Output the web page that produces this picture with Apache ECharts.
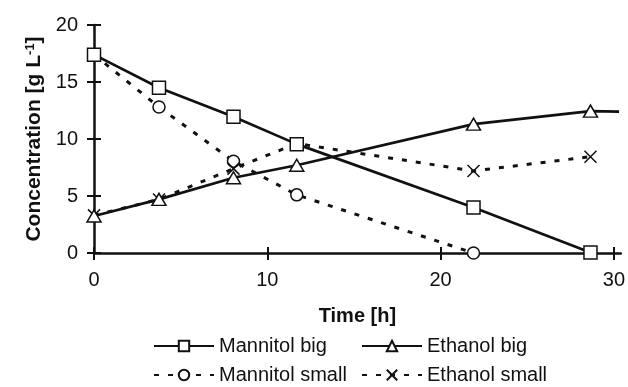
<!DOCTYPE html>
<html>
<head>
<meta charset="utf-8">
<script src="https://cdn.jsdelivr.net/npm/echarts@6/dist/echarts.min.js"></script>
<style>html,body{margin:0;padding:0;background:#fff}#c{width:628px;height:387px}</style>
</head>
<body>
<div id="c"></div>
<script>
// Time points [h]
var timeH = [0, 3.75, 8.05, 11.7, 21.9, 28.65];
var mannitolBig = [17.4, 14.5, 11.95, 9.55, 4.0, 0.05];
var ethanolBig = [3.25, 4.7, 6.6, 7.7, 11.3, 12.45];
var ethanolBigTail = [30.3, 12.4];
var mannitolSmall = [17.4, 12.8, 8.05, 5.1, 0];
var ethanolSmall = [3.3, 4.7, 7.4, 9.6, 7.2, 8.45];
var xTicks = [0, 10, 20, 30];
var yTicks = [0, 5, 10, 15, 20];
var seriesNames = ['Mannitol big', 'Ethanol big', 'Mannitol small', 'Ethanol small'];

function pairs(xs, ys) { return ys.map(function (v, i) { return [xs[i], v]; }); }

var FONT = 'Liberation Sans, Arial, sans-serif';
var INK = '#111';
var crossPath = 'path://M0,0L10,10M10,0L0,10';

var ethBigData = pairs(timeH, ethanolBig);
ethBigData.push({ value: ethanolBigTail, symbol: 'none' });

var chart = echarts.init(document.getElementById('c'), null, { renderer: 'canvas' });

var baseX = { type: 'value', min: 0, max: 30.4, interval: 10, splitLine: { show: false } };
var baseY = { type: 'value', min: 0, max: 20, interval: 5, splitLine: { show: false } };

var legendPos = [[148, 331], [356, 331], [148, 360], [356, 360]];
var legends = seriesNames.map(function (n, i) {
  return {
    left: legendPos[i][0], top: legendPos[i][1], itemWidth: 60, itemHeight: 13,
    textStyle: { fontSize: 20, color: INK, fontFamily: FONT },
    data: [n]
  };
});

chart.setOption({
  animation: false,
  backgroundColor: '#fff',
  textStyle: { fontFamily: FONT, color: INK },
  grid: { left: 94, right: 5, top: 25, bottom: 134 },
  xAxis: [
    Object.assign({}, baseX, {
      position: 'bottom',
      axisLine: { show: true, lineStyle: { color: INK, width: 2.5 } },
      axisTick: { show: true, inside: false, length: 7, customValues: xTicks, lineStyle: { color: INK, width: 2 } },
      axisLabel: { show: true, customValues: xTicks, margin: 17, fontSize: 20, color: INK, fontFamily: FONT },
      name: 'Time [h]', nameLocation: 'middle', nameGap: 53,
      nameTextStyle: { fontSize: 20, fontWeight: 'bold', color: INK, fontFamily: FONT }
    }),
    Object.assign({}, baseX, {
      position: 'bottom',
      axisLine: { show: false },
      axisTick: { show: true, inside: true, length: 6, customValues: xTicks, lineStyle: { color: INK, width: 2 } },
      axisLabel: { show: false }
    })
  ],
  yAxis: [
    Object.assign({}, baseY, {
      position: 'left',
      axisLine: { show: true, lineStyle: { color: INK, width: 2.5 } },
      axisTick: { show: true, inside: false, length: 7, customValues: yTicks, lineStyle: { color: INK, width: 2 } },
      axisLabel: { show: true, customValues: yTicks, margin: 16, fontSize: 20, color: INK, fontFamily: FONT },
      name: 'Concentration [g L{sup|-1}]', nameLocation: 'middle', nameGap: 48,
      nameTextStyle: {
        fontSize: 21, fontWeight: 'bold', color: INK, fontFamily: FONT,
        rich: { sup: { fontSize: 13, fontWeight: 'bold', verticalAlign: 'top', padding: [0, 0, 8, 0], fontFamily: FONT, color: INK } }
      }
    }),
    Object.assign({}, baseY, {
      position: 'left',
      axisLine: { show: false },
      axisTick: { show: true, inside: true, length: 7, customValues: yTicks, lineStyle: { color: INK, width: 2 } },
      axisLabel: { show: false }
    })
  ],
  legend: legends,
  series: [
    {
      name: seriesNames[0], type: 'line', data: pairs(timeH, mannitolBig),
      symbol: 'rect', symbolSize: 13,
      lineStyle: { color: INK, width: 2.7 },
      itemStyle: { color: '#fff', borderColor: INK, borderWidth: 1.5 }, z: 3
    },
    {
      name: seriesNames[1], type: 'line', data: ethBigData,
      symbol: 'triangle', symbolSize: [14, 12],
      lineStyle: { color: INK, width: 2.7 },
      itemStyle: { color: '#fff', borderColor: INK, borderWidth: 1.5 }, z: 3
    },
    {
      name: seriesNames[2], type: 'line', data: pairs(timeH, mannitolSmall),
      symbol: 'circle', symbolSize: 12,
      lineStyle: { color: INK, width: 3, type: [5, 9] },
      itemStyle: { color: '#fff', borderColor: INK, borderWidth: 1.5 }, z: 2
    },
    {
      name: seriesNames[3], type: 'line', data: pairs(timeH, ethanolSmall),
      symbol: crossPath, symbolSize: 12,
      lineStyle: { color: INK, width: 3, type: [5, 9] },
      itemStyle: { color: 'none', borderColor: INK, borderWidth: 1.5 }, z: 2
    }
  ]
});
</script>
</body>
</html>
